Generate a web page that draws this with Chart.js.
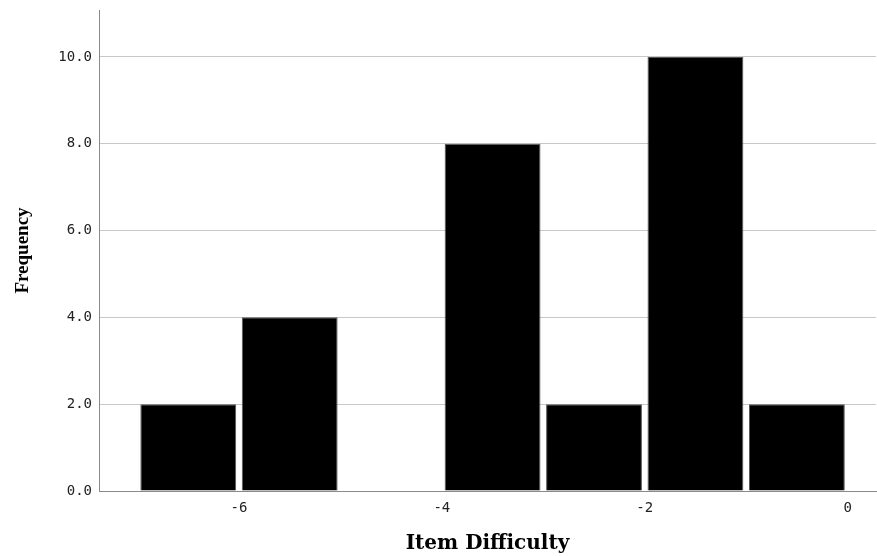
<!DOCTYPE html>
<html>
<head>
<meta charset="utf-8">
<script src="https://cdn.jsdelivr.net/npm/chart.js@4"></script>
<style>
    html, body { margin: 0; padding: 0; background: #fff; }
    #wrap { width: 877px; height: 556px; }
</style>
</head>
<body>
<div id="wrap"><canvas id="histChart"></canvas></div>
<script>
// Histogram bins (left edges, width 1) and their counts.
const binStarts = [-7, -6, -5, -4, -3, -2, -1];
const binWidth = 1;
const counts = [2, 4, 0, 8, 2, 10, 2];

// Tick labels shown on the axes.
const xTicks = [-6, -4, -2, 0];
const yTicks = [0, 2, 4, 6, 8, 10];

const tickFont = { family: 'DejaVu Sans Mono', size: 14 };

const points = binStarts.map((start, i) => ({ x: start + binWidth / 2, y: counts[i] }));

const canvas = document.getElementById('histChart');

new Chart(canvas, {
    type: 'bar',
    data: {
        datasets: [
            {
                data: points,
                backgroundColor: '#000000',
                borderColor: '#555555',
                borderWidth: 1,
                barPercentage: 0.945,
                categoryPercentage: 1.0
            }
        ]
    },
    options: {
        responsive: true,
        maintainAspectRatio: false,
        animation: false,
        layout: {
            padding: { top: 10, right: 1, left: 0, bottom: 0 }
        },
        plugins: {
            legend: { display: false },
            tooltip: { enabled: false }
        },
        scales: {
            x: {
                type: 'linear',
                offset: false,
                min: -7.38,
                max: 0.28,
                afterBuildTicks: (scale) => {
                    scale.ticks = xTicks.map(v => ({ value: v }));
                },
                afterFit: (scale) => {
                    scale.height = 65;
                    scale.paddingLeft = 0;
                    scale.paddingRight = 0;
                },
                grid: { display: false, drawTicks: false },
                border: { display: true, color: '#8a8a8a', width: 1 },
                ticks: {
                    color: '#222222',
                    font: tickFont,
                    padding: 9,
                    maxRotation: 0,
                    callback: (v) => String(v)
                },
                title: {
                    display: true,
                    text: 'Item Difficulty',
                    color: '#000000',
                    font: { family: 'DejaVu Serif', size: 20, weight: 'bold' },
                    padding: { top: 0, bottom: 0 }
                }
            },
            y: {
                min: 0,
                max: 11.08,
                afterBuildTicks: (scale) => {
                    scale.ticks = yTicks.map(v => ({ value: v }));
                },
                afterFit: (scale) => {
                    scale.width = 99;
                    scale.paddingTop = 0;
                    scale.paddingBottom = 0;
                },
                grid: {
                    drawTicks: false,
                    color: (ctx) => (ctx.tick && ctx.tick.value === 0 ? 'rgba(0,0,0,0)' : '#c8c8c8'),
                    lineWidth: 1
                },
                border: { display: true, color: '#8a8a8a', width: 1 },
                ticks: {
                    color: '#222222',
                    font: tickFont,
                    padding: 7,
                    callback: (v) => Number(v).toFixed(1)
                },
                title: {
                    display: true,
                    text: 'Frequency',
                    color: '#000000',
                    font: { family: 'Liberation Serif', size: 19, weight: 'bold' },
                    padding: { top: 12, bottom: 0 }
                }
            }
        }
    }
});
</script>
</body>
</html>
